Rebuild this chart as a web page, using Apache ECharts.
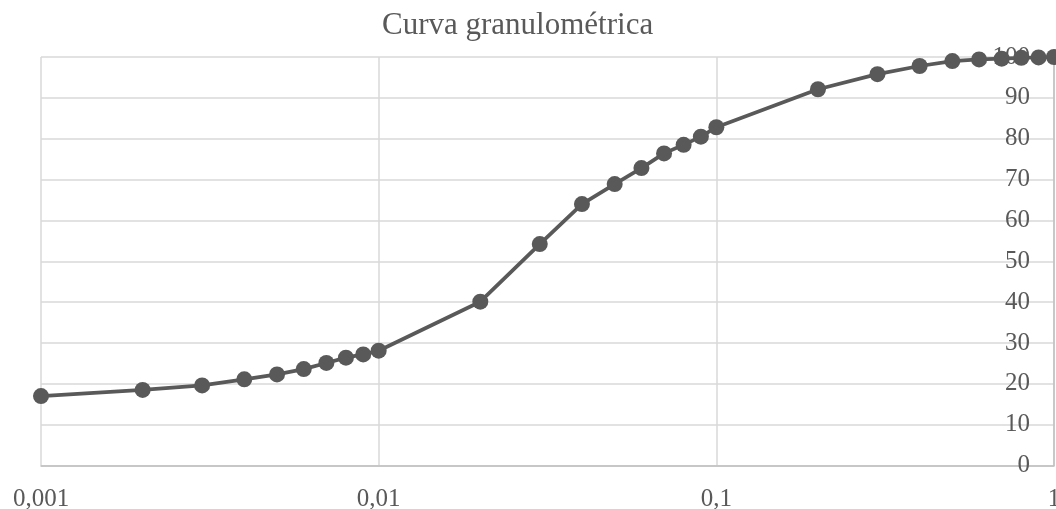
<!DOCTYPE html>
<html>
<head>
<meta charset="utf-8">
<script src="https://cdn.jsdelivr.net/npm/echarts@6/dist/echarts.min.js"></script>
<style>
html,body{margin:0;padding:0;background:#fff;overflow:hidden;}
#chart{width:1056px;height:509px;}
</style>
</head>
<body>
<div id="chart"></div>
<script>
const titleText = 'Curva granulométrica';
const diameters = [0.001,0.002,0.003,0.004,0.005,0.006,0.007,0.008,0.009,0.01,
                   0.02,0.03,0.04,0.05,0.06,0.07,0.08,0.09,0.1,
                   0.2,0.3,0.4,0.5,0.6,0.7,0.8,0.9,1];
const passing = [17.0,18.5,19.6,21.1,22.3,23.6,25.1,26.4,27.2,28.1,
                 40.1,54.2,64.0,68.9,72.8,76.4,78.5,80.5,82.8,
                 92.1,95.8,97.8,99.0,99.4,99.6,99.8,99.9,100];
const yTicks = {min:0, max:100, interval:10};

const FONT = '"Liberation Serif", "Times New Roman", serif';
const TXT = '#595959';

const chart = echarts.init(document.getElementById('chart'), null, {renderer:'canvas'});
chart.setOption({
  animation:false,
  backgroundColor:'#ffffff',
  title:{
    text:titleText,
    left:382, top:10, padding:0,
    textStyle:{fontFamily:FONT, fontSize:31, fontWeight:'normal', color:TXT}
  },
  grid:{left:41, right:2, top:57, bottom:43.5, containLabel:false, outerBoundsMode:'none'},
  xAxis:{
    type:'log', logBase:10, min:0.001, max:1,
    axisLine:{show:true, lineStyle:{color:'#bfbfbf', width:1.5}},
    axisTick:{show:false},
    splitLine:{show:true, lineStyle:{color:'#d9d9d9', width:1.5}},
    axisLabel:{
      margin:21, color:TXT, fontFamily:FONT, fontSize:25,
      showMinLabel:true, showMaxLabel:true,
      formatter:function(v){ return String(+v.toPrecision(6)).replace('.', ','); }
    }
  },
  yAxis:{
    type:'value', position:'right',
    min:yTicks.min, max:yTicks.max, interval:yTicks.interval,
    axisLine:{show:true, lineStyle:{color:'#bfbfbf', width:1.5}},
    axisTick:{show:false},
    splitLine:{show:true, lineStyle:{color:'#d9d9d9', width:1.5}},
    axisLabel:{inside:true, margin:24, color:TXT, fontFamily:FONT, fontSize:25}
  },
  series:[{
    type:'line',
    data:diameters.map((d,i)=>[d, passing[i]]),
    symbol:'circle', symbolSize:16,
    clip:false,
    lineStyle:{color:'#595959', width:3.75},
    itemStyle:{color:'#595959'}
  }]
});
</script>
</body>
</html>
